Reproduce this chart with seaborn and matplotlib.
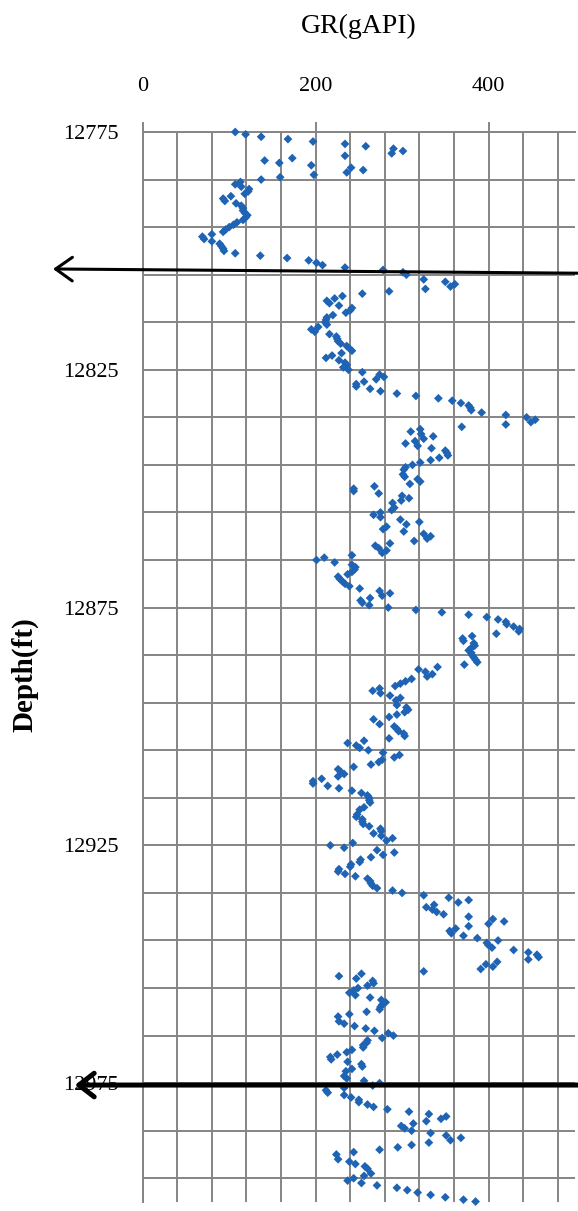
import numpy as np
import pandas as pd
import matplotlib
matplotlib.use("Agg")
import matplotlib.pyplot as plt
import seaborn as sns

# Gamma-ray log samples: depth (ft) and GR (gAPI), grouped by interval
depth_a = [12775.0, 12775.5, 12776.0, 12776.5, 12777.0, 12777.5, 12778.0, 12778.5, 12779.0, 12779.5,
           12780.0, 12780.5, 12781.0, 12781.5, 12782.0, 12782.5, 12783.0, 12783.5, 12784.0, 12784.5,
           12785.0, 12785.5, 12786.0, 12786.5, 12787.0, 12787.5, 12788.0, 12788.5, 12789.0, 12789.5,
           12790.0, 12790.5, 12791.0, 12791.5, 12792.0, 12792.5, 12793.0, 12793.5, 12794.0, 12794.5,
           12795.0, 12795.5, 12796.0, 12796.5, 12797.0, 12797.5, 12798.0, 12798.5, 12799.0, 12799.5,
           12800.0, 12800.5, 12801.0, 12801.5, 12802.0, 12802.5, 12803.0, 12803.5, 12804.0, 12804.5,
           12805.0, 12806.0, 12806.5, 12807.0, 12807.5, 12808.0, 12808.5, 12809.0, 12809.5]
gr_a = [107, 119, 137, 168, 197, 234, 258, 290, 301, 288,
        234, 173, 141, 158, 195, 241, 255, 236, 198, 159,
        137, 113, 107, 114, 123, 122, 118, 102, 93, 95,
        108, 114, 116, 116, 118, 121, 119, 116, 109, 105,
        100, 96, 93, 80, 69, 71, 80, 89, 91, 93,
        94, 107, 136, 167, 192, 201, 208, 234, 278, 301,
        305, 325, 350, 361, 356, 327, 285, 254, 231]

depth_b = [12810.0, 12810.5, 12811.0, 12811.5, 12812.0, 12812.5, 12813.0, 12813.5, 12814.0, 12814.5,
           12815.0, 12815.5, 12816.0, 12816.5, 12817.0, 12817.5, 12818.0, 12818.5, 12819.0, 12819.5,
           12820.0, 12820.5, 12821.0, 12821.5, 12822.0, 12822.5, 12823.0, 12823.5, 12824.0, 12824.5,
           12825.0, 12825.5, 12826.0, 12826.5, 12827.0, 12827.5, 12828.0, 12828.5, 12829.0, 12829.5,
           12830.0, 12830.5, 12831.0, 12831.5, 12832.0, 12832.5, 12833.0, 12833.5, 12834.0, 12834.5,
           12835.0, 12835.5, 12836.0, 12836.5, 12837.0, 12837.5, 12838.0, 12838.5, 12839.0, 12839.5,
           12840.0, 12840.5, 12841.0, 12841.5, 12842.0, 12842.5, 12843.0, 12843.5, 12844.0, 12844.5,
           12845.0, 12845.5, 12846.0, 12847.0, 12847.5, 12848.0, 12848.5, 12849.0]
gr_b = [222, 213, 216, 227, 242, 240, 235, 220, 213, 212,
        211, 213, 203, 195, 199, 216, 224, 225, 226, 229,
        236, 239, 242, 230, 219, 212, 227, 234, 236, 232,
        238, 254, 274, 279, 270, 256, 247, 247, 263, 275,
        294, 316, 342, 358, 368, 377, 379, 380, 392, 420,
        444, 454, 449, 420, 369, 321, 310, 322, 336, 325,
        315, 304, 318, 334, 350, 352, 353, 343, 333, 321,
        312, 304, 302, 301, 303, 318, 321, 309]

depth_c = [12849.5, 12850.0, 12850.5, 12851.0, 12851.5, 12852.0, 12852.5, 12853.0,
           12854.0, 12854.5, 12855.0, 12855.5, 12856.0, 12856.5, 12857.0, 12857.5, 12858.0, 12858.5,
           12859.0, 12859.5, 12860.0, 12860.5, 12861.0, 12861.5, 12862.0, 12862.5, 12863.0, 12863.5,
           12864.0, 12864.5, 12865.0, 12865.5, 12866.0, 12866.5, 12867.0, 12867.5, 12868.0, 12868.5,
           12869.0, 12869.5, 12870.0, 12870.5, 12871.0, 12871.5, 12872.0, 12872.5, 12873.0, 12873.5,
           12874.0, 12874.5, 12875.0, 12875.5, 12876.0, 12876.5, 12877.0, 12877.5, 12878.0, 12878.5,
           12879.0, 12879.5, 12880.0, 12880.5, 12881.0, 12881.5, 12882.0, 12882.5, 12883.0, 12883.5,
           12884.0, 12884.5, 12885.0, 12885.5, 12886.0, 12886.5, 12887.0, 12887.5]
gr_c = [268, 244, 244, 273, 300, 308, 299, 289,
        291, 288, 275, 267, 275, 298, 320, 305, 282, 278,
        302, 325, 333, 329, 314, 286, 269, 273, 282, 277,
        242, 210, 201, 222, 242, 246, 245, 242, 237, 226,
        228, 231, 234, 239, 251, 274, 286, 277, 263, 252,
        254, 262, 284, 316, 346, 377, 398, 411, 420, 421,
        429, 436, 435, 409, 381, 370, 371, 383, 384, 380,
        377, 380, 381, 383, 385, 387, 372, 341]

depth_d = [12888.0, 12888.5, 12889.0, 12889.5, 12890.0, 12890.5, 12891.0, 12891.5, 12892.0, 12892.5,
           12893.0, 12893.5, 12894.0, 12894.5, 12895.5, 12896.0, 12896.5, 12897.0, 12897.5, 12898.0,
           12898.5, 12899.5, 12900.0, 12900.5, 12901.0, 12901.5, 12902.0, 12902.5, 12903.0, 12903.5,
           12904.0, 12904.5, 12905.0, 12905.5, 12906.0, 12906.5, 12907.0, 12907.5, 12908.0, 12908.5,
           12909.0, 12909.5, 12910.0, 12910.5, 12911.0, 12911.5, 12912.0, 12912.5, 12913.0, 12913.5,
           12914.0, 12914.5, 12915.0, 12915.5, 12916.0, 12917.0, 12917.5, 12918.5, 12919.0, 12919.5,
           12920.0, 12920.5, 12921.0, 12921.5, 12922.0, 12922.5, 12923.0, 12923.5, 12924.0, 12924.5,
           12925.0, 12925.5, 12926.0, 12926.5, 12927.0, 12927.5, 12928.0, 12928.5, 12929.0, 12929.5,
           12930.0, 12930.5, 12931.0, 12931.5, 12932.0, 12932.5, 12933.0, 12933.5, 12934.0, 12934.5,
           12935.0, 12935.5, 12936.0, 12936.5, 12937.0, 12937.5, 12938.0, 12938.5, 12939.0, 12939.5,
           12940.0, 12940.5, 12941.0, 12941.5, 12942.0, 12942.5, 12943.0, 12943.5, 12944.0]
gr_d = [319, 327, 335, 329, 311, 304, 298, 292, 274, 266,
        275, 286, 298, 293, 294, 305, 307, 303, 294, 285,
        267, 274, 291, 294, 296, 302, 303, 285, 256, 237,
        247, 251, 261, 278, 297, 291, 277, 273, 264, 244,
        226, 229, 233, 226, 207, 197, 197, 214, 227, 242,
        253, 260, 262, 262, 263, 256, 251, 248, 247, 254,
        254, 255, 262, 275, 276, 267, 276, 289, 282, 243,
        217, 233, 271, 291, 278, 264, 252, 251, 241, 240,
        227, 226, 234, 246, 260, 263, 264, 266, 271, 289,
        300, 325, 354, 377, 365, 337, 328, 335, 340, 348,
        377, 405, 418, 400, 377, 362, 355, 357, 371]

depth_e = [12944.5, 12945.0, 12945.5, 12946.0, 12946.5, 12947.0, 12947.5, 12948.0, 12948.5, 12949.0,
           12949.5, 12950.0, 12950.5, 12951.0, 12951.5, 12952.0, 12952.5, 12953.0, 12953.5, 12954.0,
           12954.5, 12955.0, 12955.5, 12956.0, 12956.5, 12957.0, 12957.5, 12958.0, 12958.5, 12959.0,
           12959.5, 12960.0, 12960.5, 12961.0, 12962.0, 12962.5, 12963.0, 12963.5, 12964.0, 12964.5,
           12965.0, 12965.5, 12966.0, 12966.5, 12967.0, 12967.5, 12968.0, 12968.5, 12969.0, 12969.5,
           12970.0, 12970.5, 12971.0, 12971.5, 12972.0, 12972.5, 12973.5, 12974.0, 12974.5, 12975.0,
           12975.5, 12976.0, 12976.5, 12977.0, 12977.5, 12978.0, 12978.5, 12979.0, 12979.5, 12980.0,
           12980.5, 12981.0, 12981.5, 12982.0, 12982.5, 12983.0, 12983.5, 12984.0, 12984.5, 12985.0,
           12985.5, 12986.0, 12986.5, 12987.0, 12987.5, 12988.0, 12988.5, 12989.0, 12989.5, 12990.0,
           12991.0, 12991.5, 12992.0, 12992.5, 12993.0, 12994.0, 12994.5, 12995.0, 12995.5, 12996.0,
           12996.5, 12997.0, 12997.5, 12998.0, 12998.5, 12999.0, 12999.5, 12999.9]
gr_e = [387, 411, 398, 400, 404, 429, 446, 456, 458, 446,
        410, 397, 405, 391, 325, 253, 227, 247, 266, 267,
        260, 249, 244, 239, 246, 263, 276, 281, 277, 275,
        274, 259, 239, 226, 227, 233, 245, 258, 268, 284,
        290, 277, 260, 259, 255, 255, 242, 236, 225, 217,
        218, 237, 253, 254, 242, 235, 233, 236, 256, 274,
        266, 233, 212, 214, 233, 241, 250, 250, 260, 267,
        283, 308, 331, 351, 345, 328, 313, 299, 303, 311,
        333, 351, 368, 356, 331, 311, 295, 274, 244, 224,
        226, 239, 246, 257, 260, 264, 256, 244, 237, 253,
        271, 294, 306, 318, 333, 350, 371, 385]

# Formation markers (depth at left tip, depth at right end)
top_marker = (12803.8, 12804.7)
base_marker = (12975.4, 12975.4)

gr_ticks = [0, 200, 400]
depth_ticks = [12775, 12825, 12875, 12925, 12975]

log = pd.DataFrame({
    "Depth": depth_a + depth_b + depth_c + depth_d + depth_e,
    "GR": gr_a + gr_b + gr_c + gr_d + gr_e,
})

sns.set_style("white")
plt.rcParams["font.family"] = ["Liberation Serif", "DejaVu Serif"]
plt.rcParams["text.color"] = "black"

grid_color = "#858585"
fig = plt.figure(figsize=(5.78, 12.11), dpi=100)
ax = fig.add_axes([0.2469, 0.0074, 0.7479, 0.8836])

sns.scatterplot(data=log, x="GR", y="Depth", marker="D", s=20, color="#1f64b4",
                edgecolor="none", linewidth=0, ax=ax, zorder=3, clip_on=False)

ax.set_xlim(0, 500)
ax.set_ylim(13000, 12775)
ax.set_xlabel("")
ax.set_ylabel("")

ax.xaxis.tick_top()
ax.set_xticks(gr_ticks)
ax.set_xticks(np.arange(0, 500, 40), minor=True)
ax.set_yticks(depth_ticks)
ax.set_yticks(np.arange(12775, 13000, 10), minor=True)

ax.tick_params(axis="x", which="major", direction="out", length=7.5, width=1.4,
               color=grid_color, pad=18.5, labelsize=16, labelcolor="black",
               top=True, bottom=False)
ax.tick_params(axis="y", which="major", direction="out", length=6.5, width=1.4,
               color=grid_color, pad=11, labelsize=16, labelcolor="black")
ax.tick_params(which="minor", length=0)

ax.set_axisbelow(True)
ax.grid(which="both", color=grid_color, linewidth=1.4)
for side in ("right", "bottom"):
    ax.spines[side].set_visible(False)
for side in ("top", "left"):
    ax.spines[side].set_color(grid_color)
    ax.spines[side].set_linewidth(1.4)

fig.text(0.621, 1 - 26 / 1211, "GR(gAPI)", fontsize=20, ha="center", va="center",
         color="black")
fig.text(25 / 578, 1 - 675 / 1211, "Depth(ft)", fontsize=21, fontweight="bold",
         rotation=90, ha="center", va="center", color="black")

# Marker arrows pointing out of the track
trans = ax.get_yaxis_transform()
ax.annotate("", xy=(-0.2075, top_marker[0]), xytext=(1.02, top_marker[1]),
            xycoords=trans, textcoords=trans, annotation_clip=False,
            arrowprops=dict(arrowstyle="->,head_length=1.2,head_width=0.85",
                            lw=2.2, color="black", shrinkA=0, shrinkB=0,
                            mutation_scale=10), zorder=5)
ax.annotate("", xy=(-0.157, base_marker[0]), xytext=(1.02, base_marker[1]),
            xycoords=trans, textcoords=trans, annotation_clip=False,
            arrowprops=dict(arrowstyle="->,head_length=1.1,head_width=0.85",
                            lw=3.6, color="black", shrinkA=0, shrinkB=0,
                            mutation_scale=10), zorder=5)

fig.savefig("out.png", dpi=100)
